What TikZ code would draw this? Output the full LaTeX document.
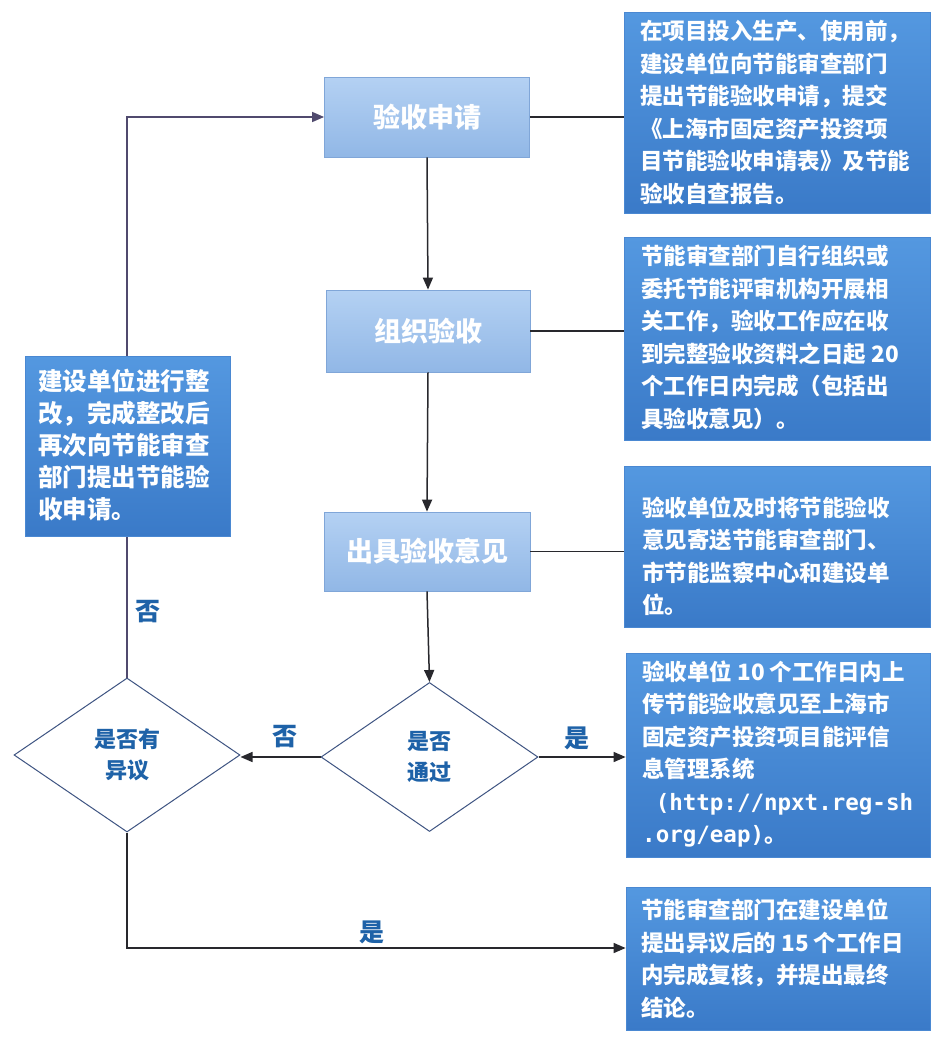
\documentclass[tikz,border=0pt]{standalone}
\usepackage{fontspec}
\setmainfont{Noto Sans CJK SC}
\newfontfamily\urlmono{DejaVu Sans Mono}
\usetikzlibrary{arrows.meta,shapes.geometric}
\definecolor{rbtop}{RGB}{84,152,224}
\definecolor{rbbot}{RGB}{58,122,200}
\definecolor{rbedge}{RGB}{74,136,210}
\definecolor{mbtop}{RGB}{180,209,243}
\definecolor{mbbot}{RGB}{145,183,230}
\definecolor{mbedge}{RGB}{128,166,216}
\definecolor{lbl}{RGB}{30,98,168}
\definecolor{dia}{RGB}{62,84,130}
\definecolor{ln}{RGB}{40,40,45}
\definecolor{lnp}{RGB}{80,74,110}
\tikzset{
  rbox/.style={rectangle, draw=rbedge, line width=0.8pt, top color=rbtop, bottom color=rbbot, inner sep=0pt},
  mbox/.style={rectangle, draw=mbedge, line width=0.8pt, top color=mbtop, bottom color=mbbot, inner sep=0pt,
    text=white, font=\fontsize{27}{30}\selectfont\bfseries},
  rtext/.style={anchor=west, align=left, text=white, inner sep=0pt, font=\fontsize{22.5}{32.5}\selectfont\bfseries},
  ltext/.style={anchor=west, align=left, text=white, inner sep=0pt, font=\fontsize{24.5}{32}\selectfont\bfseries},
  dec/.style={diamond, draw=dia, line width=1pt, fill=white, inner sep=0pt, align=center,
    text=lbl, font=\fontsize{22}{31}\selectfont\bfseries},
  yn/.style={text=lbl, font=\fontsize{25}{28}\selectfont\bfseries, inner sep=0pt},
  conn/.style={draw=ln, line width=1.5pt},
  connp/.style={draw=lnp, line width=1.5pt},
  arr/.style={-{Triangle[length=12pt,width=10pt]}}
}
\begin{document}
\begin{tikzpicture}[x=1pt,y=-1pt]
\useasboundingbox[fill=white] (0,0) rectangle (942,1044);

% middle column
\node[mbox, minimum width=205pt, minimum height=80pt] (m1) at (427,117) {验收申请};
\node[mbox, minimum width=204pt, minimum height=82pt] (m2) at (428,331) {组织验收};
\node[mbox, minimum width=206pt, minimum height=79pt] (m3) at (427,551.5) {出具验收意见};
\node[dec, minimum width=217pt, minimum height=149pt] (d1) at (429.5,757) {是否\\通过};
\node[dec, minimum width=226pt, minimum height=154pt] (d2) at (127,755) {是否有\\异议};

% right boxes
\node[rbox, minimum width=306pt, minimum height=201pt] (r1) at (777,112.5) {};
\node[rbox, minimum width=306pt, minimum height=203pt] (r2) at (777,338.5) {};
\node[rbox, minimum width=306pt, minimum height=161pt] (r3) at (777,546.5) {};
\node[rbox, minimum width=304pt, minimum height=204pt] (r4) at (778,755) {};
\node[rbox, minimum width=304pt, minimum height=143pt] (r5) at (778,958.5) {};

\node[rtext] (t1) at (640,112.5) {在项目投入生产、使用前，\\建设单位向节能审查部门\\提出节能验收申请，提交\\《上海市固定资产投资项\\目节能验收申请表》及节能\\验收自查报告。};
\node[rtext] (t2) at (641,337.5) {节能审查部门自行组织或\\委托节能评审机构开展相\\关工作，验收工作应在收\\到完整验收资料之日起 20\\个工作日内完成（包括出\\具验收意见）。};
\node[rtext] (t3) at (642,556) {验收单位及时将节能验收\\意见寄送节能审查部门、\\市节能监察中心和建设单\\位。};
\node[rtext] (t4) at (642,754) {验收单位 10 个工作日内上\\传节能验收意见至上海市\\固定资产投资项目能评信\\息管理系统\\{\urlmono\bfseries\ (http://npxt.reg-sh}\\{\urlmono\bfseries .org/eap)}。};
\node[rtext] (t5) at (641,958.5) {节能审查部门在建设单位\\提出异议后的 15 个工作日\\内完成复核，并提出最终\\结论。};

% connectors
\draw[conn, arr] (m1.south) -- (m2.north);
\draw[conn, arr] (m2.south) -- (m3.north);
\draw[conn, arr] (m3.south) -- (d1.north);
\draw[conn] (m1.east) -- (m1.east -| r1.west);
\draw[conn] (m2.east) -- (m2.east -| r2.west);
\draw[conn] (m3.east) -- (m3.east -| r3.west);
\draw[conn, arr] (d1.west) -- (d1.west -| d2.east);
\draw[conn, arr] (d1.east) -- (d1.east -| r4.west);
\draw[connp, arr] (d2.north) |- (m1.west);
\draw[conn, arr] (d2.south) |- ([yshift=10.5pt]r5.west);

% left box (over the loop line)
\node[rbox, minimum width=205pt, minimum height=180pt] (lb) at (127.5,446) {};
\node[ltext] (lt) at (38,445) {建设单位进行整\\改，完成整改后\\再次向节能审查\\部门提出节能验\\收申请。};

% labels
\node[yn] (n1) at (148,612) {否};
\node[yn] (n2) at (285,737) {否};
\node[yn] (y1) at (577,738) {是};
\node[yn] (y2) at (372,932) {是};
\end{tikzpicture}
\end{document}
